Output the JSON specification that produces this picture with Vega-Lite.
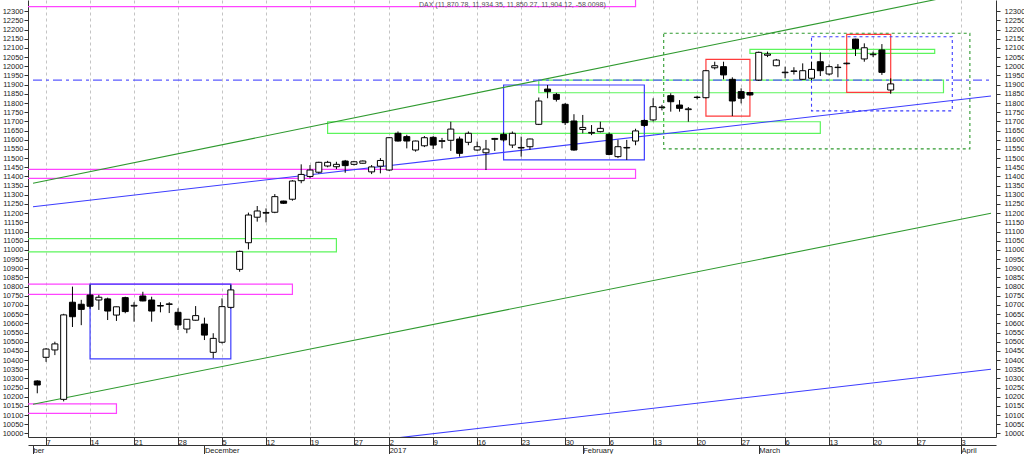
{
  "$schema": "https://vega.github.io/schema/vega-lite/v6.json",
  "width": 968,
  "height": 437,
  "autosize": "none",
  "padding": {"left": 28, "top": 0, "right": 28, "bottom": 17},
  "background": "white",
  "config": {
    "view": {"stroke": null},
    "axis": {"labelFont": "Liberation Sans", "labelFontSize": 7.5, "labelColor": "#222", "domainColor": "#333", "tickColor": "#333", "title": null, "labelOverlap": false, "labelFlush": false, "labelBound": false}
  },
  "datasets": {
    "candles": [
      {"i": -21, "o": 10286, "h": 10290, "l": 10219, "c": 10264},
      {"i": -20, "o": 10415, "h": 10465, "l": 10390, "c": 10460},
      {"i": -19, "o": 10455, "h": 10500, "l": 10427, "c": 10488},
      {"i": -18, "o": 10186, "h": 10652, "l": 10175, "c": 10646},
      {"i": -17, "o": 10715, "h": 10800, "l": 10580, "c": 10636},
      {"i": -16, "o": 10704, "h": 10728, "l": 10590, "c": 10676},
      {"i": -15, "o": 10754, "h": 10810, "l": 10680, "c": 10693},
      {"i": -14, "o": 10727, "h": 10755, "l": 10673, "c": 10742},
      {"i": -13, "o": 10733, "h": 10740, "l": 10618, "c": 10667},
      {"i": -12, "o": 10645, "h": 10691, "l": 10613, "c": 10690},
      {"i": -11, "o": 10740, "h": 10745, "l": 10655, "c": 10664},
      {"i": -10, "o": 10694, "h": 10715, "l": 10609, "c": 10698},
      {"i": -9, "o": 10749, "h": 10772, "l": 10720, "c": 10722},
      {"i": -8, "o": 10727, "h": 10745, "l": 10609, "c": 10667},
      {"i": -7, "o": 10694, "h": 10715, "l": 10660, "c": 10697},
      {"i": -6, "o": 10703, "h": 10715, "l": 10656, "c": 10706},
      {"i": -5, "o": 10660, "h": 10682, "l": 10564, "c": 10591},
      {"i": -4, "o": 10569, "h": 10623, "l": 10546, "c": 10622},
      {"i": -3, "o": 10617, "h": 10694, "l": 10615, "c": 10642},
      {"i": -2, "o": 10596, "h": 10631, "l": 10509, "c": 10536},
      {"i": -1, "o": 10442, "h": 10546, "l": 10410, "c": 10518},
      {"i": 0, "o": 10497, "h": 10736, "l": 10490, "c": 10691},
      {"i": 1, "o": 10687, "h": 10810, "l": 10680, "c": 10782},
      {"i": 2, "o": 10894, "h": 10996, "l": 10881, "c": 10992},
      {"i": 3, "o": 11039, "h": 11203, "l": 11003, "c": 11190},
      {"i": 4, "o": 11178, "h": 11239, "l": 11154, "c": 11212},
      {"i": 5, "o": 11200, "h": 11226, "l": 11150, "c": 11204},
      {"i": 6, "o": 11205, "h": 11304, "l": 11200, "c": 11290},
      {"i": 7, "o": 11266, "h": 11268, "l": 11250, "c": 11254},
      {"i": 8, "o": 11276, "h": 11380, "l": 11268, "c": 11375},
      {"i": 9, "o": 11377, "h": 11466, "l": 11363, "c": 11411},
      {"i": 10, "o": 11400, "h": 11462, "l": 11390, "c": 11435},
      {"i": 11, "o": 11423, "h": 11480, "l": 11415, "c": 11477},
      {"i": 12, "o": 11457, "h": 11485, "l": 11450, "c": 11477},
      {"i": 13, "o": 11453, "h": 11480, "l": 11440, "c": 11466},
      {"i": 14, "o": 11484, "h": 11490, "l": 11420, "c": 11459},
      {"i": 15, "o": 11466, "h": 11485, "l": 11460, "c": 11480},
      {"i": 16, "o": 11472, "h": 11487, "l": 11470, "c": 11484},
      {"i": 17, "o": 11425, "h": 11462, "l": 11413, "c": 11452},
      {"i": 18, "o": 11456, "h": 11500, "l": 11417, "c": 11487},
      {"i": 19, "o": 11435, "h": 11615, "l": 11430, "c": 11611},
      {"i": 20, "o": 11635, "h": 11645, "l": 11590, "c": 11593},
      {"i": 21, "o": 11617, "h": 11627, "l": 11553, "c": 11593},
      {"i": 22, "o": 11544, "h": 11595, "l": 11535, "c": 11593},
      {"i": 23, "o": 11567, "h": 11620, "l": 11560, "c": 11611},
      {"i": 24, "o": 11613, "h": 11620, "l": 11549, "c": 11571},
      {"i": 25, "o": 11591, "h": 11610, "l": 11553, "c": 11595},
      {"i": 26, "o": 11597, "h": 11698, "l": 11539, "c": 11658},
      {"i": 27, "o": 11604, "h": 11617, "l": 11508, "c": 11526},
      {"i": 28, "o": 11586, "h": 11645, "l": 11570, "c": 11635},
      {"i": 29, "o": 11544, "h": 11590, "l": 11540, "c": 11562},
      {"i": 30, "o": 11529, "h": 11599, "l": 11435, "c": 11549},
      {"i": 31, "o": 11602, "h": 11610, "l": 11539, "c": 11607},
      {"i": 32, "o": 11629, "h": 11640, "l": 11590, "c": 11599},
      {"i": 33, "o": 11571, "h": 11645, "l": 11555, "c": 11635},
      {"i": 34, "o": 11555, "h": 11617, "l": 11508, "c": 11558},
      {"i": 35, "o": 11562, "h": 11606, "l": 11545, "c": 11604},
      {"i": 36, "o": 11684, "h": 11830, "l": 11680, "c": 11811},
      {"i": 37, "o": 11876, "h": 11898, "l": 11826, "c": 11862},
      {"i": 38, "o": 11847, "h": 11855, "l": 11808, "c": 11820},
      {"i": 39, "o": 11793, "h": 11800, "l": 11680, "c": 11693},
      {"i": 40, "o": 11702, "h": 11739, "l": 11540, "c": 11544},
      {"i": 41, "o": 11656, "h": 11735, "l": 11635, "c": 11667},
      {"i": 42, "o": 11636, "h": 11680, "l": 11625, "c": 11640},
      {"i": 43, "o": 11644, "h": 11698, "l": 11640, "c": 11662},
      {"i": 44, "o": 11629, "h": 11640, "l": 11515, "c": 11520},
      {"i": 45, "o": 11508, "h": 11600, "l": 11500, "c": 11562},
      {"i": 46, "o": 11555, "h": 11599, "l": 11490, "c": 11558},
      {"i": 47, "o": 11593, "h": 11660, "l": 11570, "c": 11648},
      {"i": 48, "o": 11705, "h": 11710, "l": 11670, "c": 11678},
      {"i": 49, "o": 11708, "h": 11826, "l": 11700, "c": 11780},
      {"i": 50, "o": 11775, "h": 11790, "l": 11760, "c": 11778},
      {"i": 51, "o": 11840, "h": 11853, "l": 11753, "c": 11807},
      {"i": 52, "o": 11789, "h": 11816, "l": 11753, "c": 11771},
      {"i": 53, "o": 11764, "h": 11778, "l": 11698, "c": 11768},
      {"i": 54, "o": 11830, "h": 11840, "l": 11820, "c": 11832},
      {"i": 55, "o": 11829, "h": 11980, "l": 11825, "c": 11976},
      {"i": 56, "o": 11992, "h": 12025, "l": 11983, "c": 12003},
      {"i": 57, "o": 11998, "h": 12025, "l": 11929, "c": 11953},
      {"i": 58, "o": 11929, "h": 11940, "l": 11729, "c": 11811},
      {"i": 59, "o": 11862, "h": 11880, "l": 11798, "c": 11826},
      {"i": 60, "o": 11857, "h": 11860, "l": 11840, "c": 11844},
      {"i": 61, "o": 11925, "h": 12080, "l": 11920, "c": 12076},
      {"i": 62, "o": 12060, "h": 12080, "l": 12050, "c": 12067},
      {"i": 63, "o": 12003, "h": 12040, "l": 12000, "c": 12034},
      {"i": 64, "o": 11965, "h": 11998, "l": 11935, "c": 11968},
      {"i": 65, "o": 11972, "h": 11995, "l": 11955, "c": 11975},
      {"i": 66, "o": 11929, "h": 12016, "l": 11925, "c": 11976},
      {"i": 67, "o": 11935, "h": 12025, "l": 11925, "c": 11983},
      {"i": 68, "o": 12025, "h": 12076, "l": 11947, "c": 11976},
      {"i": 69, "o": 11958, "h": 12010, "l": 11950, "c": 11998},
      {"i": 70, "o": 11993, "h": 12012, "l": 11940, "c": 11995},
      {"i": 71, "o": 12014, "h": 12020, "l": 12010, "c": 12017},
      {"i": 72, "o": 12148, "h": 12150, "l": 12056, "c": 12097},
      {"i": 73, "o": 12040, "h": 12125, "l": 12025, "c": 12101},
      {"i": 74, "o": 12063, "h": 12080, "l": 12050, "c": 12066},
      {"i": 75, "o": 12089, "h": 12121, "l": 11953, "c": 11967},
      {"i": 76, "o": 11870.78, "h": 11934.35, "l": 11850.27, "c": 11904.12}
    ],
    "boxes": [
      {"i1": -30, "i2": 47, "v1": 12325, "v2": 12420, "kind": "magenta"},
      {"i1": -30, "i2": 47, "v1": 11390, "v2": 11439, "kind": "magenta"},
      {"i1": -30, "i2": 8, "v1": 10758, "v2": 10814, "kind": "magenta"},
      {"i1": -30, "i2": -12, "v1": 10110, "v2": 10161, "kind": "magenta"},
      {"i1": -30, "i2": 13, "v1": 10989, "v2": 11061, "kind": "lime"},
      {"i1": 12, "i2": 68, "v1": 11635, "v2": 11698, "kind": "lime"},
      {"i1": 36, "i2": 82, "v1": 11856, "v2": 11925, "kind": "lime"},
      {"i1": 60, "i2": 81, "v1": 12070, "v2": 12092, "kind": "lime"},
      {"i1": 55, "i2": 60, "v1": 11729, "v2": 12038, "kind": "red"},
      {"i1": 71, "i2": 76, "v1": 11858, "v2": 12174, "kind": "red"},
      {"i1": 32, "i2": 48, "v1": 11490, "v2": 11898, "kind": "blue"},
      {"i1": -15, "i2": 1, "v1": 10406, "v2": 10814, "kind": "blue"}
    ],
    "dotted": [
      {"i1": 50.2, "i2": 85, "v1": 11550, "v2": 12180, "kind": "green"},
      {"i1": 67, "i2": 83, "v1": 11757, "v2": 12161, "kind": "blue"}
    ],
    "lines": [
      {"i1": -21.485, "v1": 11363, "i2": 87.4, "v2": 12425, "kind": "green"},
      {"i1": -21.485, "v1": 10159, "i2": 87.4, "v2": 11200, "kind": "green"},
      {"i1": -21.485, "v1": 11235, "i2": 87.4, "v2": 11838, "kind": "blue"},
      {"i1": -21.485, "v1": 9747, "i2": 87.4, "v2": 10350, "kind": "blue"}
    ],
    "level": [
      {"i1": -21.485, "i2": 87.4, "v": 11925, "kind": "dashblue"}
    ],
    "label": [
      {"i": 33, "v": 12334, "text": "DAX (11,870.78, 11,934.35, 11,850.27, 11,904.12, -58.0098)"}
    ]
  },
  "resolve": {"axis": {"x": "independent", "y": "independent"}},
  "layer": [
    {
      "data": {"name": "boxes"},
      "mark": {"type": "rect", "filled": false, "strokeWidth": 1.2, "clip": true},
      "encoding": {
        "x": {"field": "i1", "type": "quantitative", "scale": {"domain": [-21.485, 87.4], "nice": false, "zero": false},
          "axis": {"orient": "bottom", "values": [-20,-15,-10,-5,0,5,10,15,19,24,29,34,39,44,49,54,59,64,69,74,79,84],
            "labelExpr": "['7','14','21','28','5','12','19','27','2','9','16','23','30','6','13','20','27','6','13','20','27','3'][indexof([-20,-15,-10,-5,0,5,10,15,19,24,29,34,39,44,49,54,59,64,69,74,79,84], datum.value)]",
            "grid": true, "gridDash": [3, 3], "gridColor": "#c4c4c4", "gridWidth": 1,
            "tickSize": 8, "labelAlign": "left", "labelBaseline": "top", "labelPadding": -7, "labelDx": 1.5}},
        "x2": {"field": "i2"},
        "y": {"field": "v1", "type": "quantitative", "scale": {"domain": [9980.9, 12361.1], "nice": false, "zero": false},
          "axis": {"orient": "left", "values": [10000,10050,10100,10150,10200,10250,10300,10350,10400,10450,10500,10550,10600,10650,10700,10750,10800,10850,10900,10950,11000,11050,11100,11150,11200,11250,11300,11350,11400,11450,11500,11550,11600,11650,11700,11750,11800,11850,11900,11950,12000,12050,12100,12150,12200,12250,12300],
            "format": "d", "tickSize": 4, "labelPadding": 1, "grid": false}},
        "y2": {"field": "v2"},
        "color": {"field": "kind", "type": "nominal", "scale": {"domain": ["magenta", "lime", "green", "blue", "red", "dashblue"], "range": ["#ff44ff", "#5cf55c", "#2f9a2f", "#3d3dff", "#ff3b3b", "#5b5bff"]}, "legend": null}
      }
    },
    {
      "data": {"name": "dotted"},
      "mark": {"type": "rect", "filled": false, "strokeWidth": 1.1, "strokeDash": [3, 3], "clip": true},
      "encoding": {
        "x": {"field": "i1", "type": "quantitative", "scale": {"domain": [-21.485, 87.4], "nice": false, "zero": false}, "axis": null},
        "x2": {"field": "i2"},
        "y": {"field": "v1", "type": "quantitative", "scale": {"domain": [9980.9, 12361.1], "nice": false, "zero": false}, "axis": null},
        "y2": {"field": "v2"},
        "color": {"field": "kind", "type": "nominal", "scale": {"domain": ["magenta", "lime", "green", "blue", "red", "dashblue"], "range": ["#ff44ff", "#5cf55c", "#2f9a2f", "#3d3dff", "#ff3b3b", "#5b5bff"]}, "legend": null}
      }
    },
    {
      "data": {"name": "lines"},
      "mark": {"type": "rule", "strokeWidth": 1.1, "clip": true},
      "encoding": {
        "x": {"field": "i1", "type": "quantitative", "scale": {"domain": [-21.485, 87.4], "nice": false, "zero": false},
          "axis": {"orient": "bottom", "offset": 8, "values": [-21.485, -2, 19, 41, 61, 84],
            "labelExpr": "['ber','December','2017','February','March','April'][indexof([-21.485,-2,19,41,61,84], datum.value)]",
            "grid": false, "tickSize": 9, "labelAlign": "left", "labelBaseline": "top", "labelPadding": -8, "labelDx": 1.5}},
        "x2": {"field": "i2"},
        "y": {"field": "v1", "type": "quantitative", "scale": {"domain": [9980.9, 12361.1], "nice": false, "zero": false},
          "axis": {"orient": "right", "values": [10000,10050,10100,10150,10200,10250,10300,10350,10400,10450,10500,10550,10600,10650,10700,10750,10800,10850,10900,10950,11000,11050,11100,11150,11200,11250,11300,11350,11400,11450,11500,11550,11600,11650,11700,11750,11800,11850,11900,11950,12000,12050,12100,12150,12200,12250,12300],
            "format": "d", "tickSize": 4, "labelPadding": 4, "grid": false}},
        "y2": {"field": "v2"},
        "color": {"field": "kind", "type": "nominal", "scale": {"domain": ["magenta", "lime", "green", "blue", "red", "dashblue"], "range": ["#ff44ff", "#5cf55c", "#2f9a2f", "#3d3dff", "#ff3b3b", "#5b5bff"]}, "legend": null}
      }
    },
    {
      "data": {"name": "level"},
      "mark": {"type": "rule", "strokeWidth": 1.3, "strokeDash": [9, 4, 3, 4], "clip": true},
      "encoding": {
        "x": {"field": "i1", "type": "quantitative", "scale": {"domain": [-21.485, 87.4], "nice": false, "zero": false}, "axis": null},
        "x2": {"field": "i2"},
        "y": {"field": "v", "type": "quantitative", "scale": {"domain": [9980.9, 12361.1], "nice": false, "zero": false}, "axis": null},
        "color": {"field": "kind", "type": "nominal", "scale": {"domain": ["magenta", "lime", "green", "blue", "red", "dashblue"], "range": ["#ff44ff", "#5cf55c", "#2f9a2f", "#3d3dff", "#ff3b3b", "#5b5bff"]}, "legend": null}
      }
    },
    {
      "data": {"name": "candles"},
      "mark": {"type": "rule", "color": "#000", "strokeWidth": 1},
      "encoding": {
        "x": {"field": "i", "type": "quantitative", "scale": {"domain": [-21.485, 87.4], "nice": false, "zero": false}, "axis": null},
        "y": {"field": "l", "type": "quantitative", "scale": {"domain": [9980.9, 12361.1], "nice": false, "zero": false}, "axis": null},
        "y2": {"field": "h"}
      }
    },
    {
      "data": {"name": "candles"},
      "mark": {"type": "bar", "size": 6, "stroke": "#000", "strokeWidth": 1},
      "encoding": {
        "x": {"field": "i", "type": "quantitative", "scale": {"domain": [-21.485, 87.4], "nice": false, "zero": false}, "axis": null},
        "y": {"field": "o", "type": "quantitative", "scale": {"domain": [9980.9, 12361.1], "nice": false, "zero": false}, "axis": null},
        "y2": {"field": "c"},
        "fill": {"condition": {"test": "datum.c < datum.o", "value": "#000000"}, "value": "#ffffff"}
      }
    },
    {
      "data": {"name": "label"},
      "mark": {"type": "text", "font": "Liberation Sans", "fontSize": 7, "color": "#555", "baseline": "middle", "align": "center"},
      "encoding": {
        "x": {"field": "i", "type": "quantitative", "scale": {"domain": [-21.485, 87.4], "nice": false, "zero": false}, "axis": null},
        "y": {"field": "v", "type": "quantitative", "scale": {"domain": [9980.9, 12361.1], "nice": false, "zero": false}, "axis": null},
        "text": {"field": "text"}
      }
    }
  ]
}
